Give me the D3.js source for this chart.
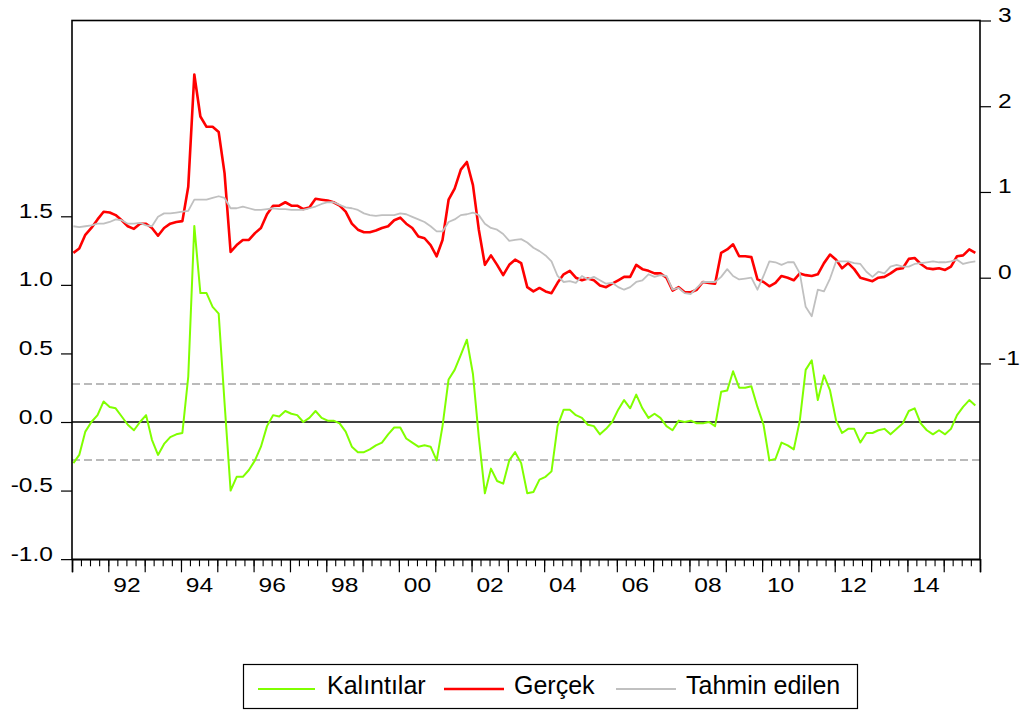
<!DOCTYPE html>
<html><head><meta charset="utf-8">
<script src="https://cdn.jsdelivr.net/npm/d3@7"></script>
<style>body{margin:0;background:#fff} text{font-family:Arial,"Liberation Sans",sans-serif;fill:#000}</style>
</head><body>
<svg id="c" width="1022" height="711"></svg>
<script>
// bimonthly observations starting Jan 1991
const startYear = 1991;
const stepMonths = 2;
const actual = [
0.29,0.34,0.50,0.58,0.68,0.77,0.76,0.73,0.67,0.60,
0.57,0.63,0.63,0.58,0.49,0.58,0.63,0.65,0.66,1.06,
2.37,1.88,1.76,1.76,1.70,1.22,0.30,0.38,0.44,0.44,
0.52,0.58,0.74,0.84,0.84,0.88,0.84,0.84,0.80,0.82,
0.92,0.91,0.90,0.88,0.84,0.77,0.63,0.56,0.53,0.53,
0.55,0.58,0.60,0.67,0.70,0.63,0.58,0.48,0.46,0.38,
0.25,0.44,0.91,1.04,1.26,1.35,1.08,0.56,0.15,0.26,
0.15,0.03,0.15,0.21,0.17,-0.11,-0.16,-0.12,-0.16,-0.18,
-0.06,0.04,0.08,0.00,-0.03,-0.01,-0.03,-0.09,-0.11,-0.07,
-0.03,0.01,0.01,0.15,0.10,0.08,0.05,0.05,0.00,-0.15,
-0.11,-0.17,-0.17,-0.14,-0.05,-0.06,-0.07,0.29,0.33,0.39,
0.25,0.25,0.24,-0.02,-0.05,-0.10,-0.06,0.02,0.00,-0.03,
0.05,0.03,0.02,0.04,0.17,0.27,0.21,0.11,0.17,0.10,
0.00,-0.02,-0.04,0.00,0.01,0.05,0.10,0.11,0.22,0.23,
0.16,0.11,0.10,0.11,0.09,0.13,0.25,0.26,0.33,0.29];
const fitted = [
0.60,0.59,0.60,0.61,0.63,0.63,0.65,0.68,0.67,0.63,
0.63,0.64,0.61,0.60,0.71,0.75,0.75,0.76,0.77,0.78,
0.91,0.91,0.91,0.93,0.95,0.93,0.81,0.81,0.83,0.81,
0.79,0.79,0.80,0.81,0.80,0.80,0.79,0.79,0.79,0.81,
0.83,0.86,0.88,0.88,0.85,0.82,0.81,0.79,0.75,0.73,
0.72,0.73,0.73,0.73,0.75,0.74,0.71,0.68,0.65,0.60,
0.54,0.54,0.65,0.68,0.73,0.74,0.76,0.73,0.63,0.58,
0.56,0.51,0.43,0.44,0.45,0.41,0.35,0.31,0.26,0.19,
0.02,-0.05,-0.04,-0.06,0.02,-0.02,0.01,-0.03,-0.07,-0.06,
-0.11,-0.14,-0.11,-0.05,-0.03,0.04,0.01,0.03,0.02,-0.14,
-0.12,-0.18,-0.19,-0.12,-0.05,-0.05,-0.05,0.01,0.10,0.02,
-0.02,-0.01,0.00,-0.14,0.02,0.19,0.18,0.15,0.18,0.18,
0.05,-0.34,-0.45,-0.14,-0.16,-0.01,0.19,0.19,0.19,0.17,
0.16,0.07,0.01,0.07,0.05,0.13,0.15,0.13,0.13,0.16,
0.17,0.18,0.19,0.18,0.18,0.19,0.21,0.16,0.18,0.19];
const residual = [
-0.30,-0.24,-0.07,0.00,0.05,0.15,0.11,0.10,0.04,-0.02,
-0.06,0.00,0.05,-0.13,-0.24,-0.16,-0.11,-0.09,-0.08,0.33,
1.43,0.94,0.94,0.84,0.79,0.14,-0.50,-0.40,-0.40,-0.35,
-0.28,-0.18,-0.03,0.05,0.04,0.08,0.06,0.05,0.00,0.03,
0.08,0.03,0.01,0.01,-0.01,-0.07,-0.18,-0.22,-0.22,-0.20,
-0.17,-0.15,-0.09,-0.04,-0.04,-0.12,-0.15,-0.18,-0.17,-0.18,
-0.28,-0.03,0.31,0.38,0.49,0.60,0.35,-0.11,-0.52,-0.34,
-0.43,-0.45,-0.28,-0.22,-0.30,-0.52,-0.51,-0.42,-0.40,-0.36,
-0.03,0.09,0.09,0.05,0.03,-0.02,-0.03,-0.09,-0.05,0.00,
0.09,0.16,0.10,0.20,0.10,0.03,0.06,0.03,-0.03,-0.06,
0.01,0.00,0.01,-0.01,-0.01,0.00,-0.03,0.22,0.23,0.37,
0.25,0.25,0.26,0.11,-0.02,-0.28,-0.27,-0.15,-0.17,-0.20,
0.01,0.38,0.45,0.16,0.34,0.23,0.01,-0.08,-0.05,-0.05,
-0.15,-0.08,-0.08,-0.06,-0.05,-0.09,-0.05,-0.01,0.08,0.10,
-0.01,-0.06,-0.09,-0.06,-0.09,-0.05,0.05,0.11,0.16,0.12];
const leftTicks = [-1, -0.5, 0, 0.5, 1, 1.5];
const rightTicks = [-1, 0, 1, 2, 3];
const yearLabels = [1992,1994,1996,1998,2000,2002,2004,2006,2008,2010,2012,2014];
const seBand = 0.277;
const seriesNames = ["Kalıntılar", "Gerçek", "Tahmin edilen"];
const seriesColors = ["#80ff00", "#ff0000", "#c0c0c0"];

const svg = d3.select("#c");
svg.append("rect").attr("width",1022).attr("height",711).attr("fill","#fff");
const L = 72, R = 980, T = 20.5, B = 559.3;
const SX = 1.17; // horizontal glyph stretch of axis labels

const dates = actual.map((_, i) => new Date(startYear, i * stepMonths, 15));
const x = d3.scaleTime().domain([new Date(1991,0,1), new Date(2016,0,1)]).range([L, R]);
const yR = d3.scaleLinear().domain([0, 3]).range([277.7, T]);
const yL = d3.scaleLinear().domain([0, 1.5]).range([422, 216.3]);

// reference lines
svg.append("line").attr("x1",L).attr("x2",R).attr("y1",yL(0)).attr("y2",yL(0))
  .attr("stroke","#000").attr("stroke-width",1.3);
[seBand, -seBand].forEach(v => svg.append("line").attr("x1",L).attr("x2",R)
  .attr("y1",yL(v)).attr("y2",yL(v)).attr("stroke","#777").attr("stroke-width",1.2)
  .attr("stroke-dasharray","8,4"));

const lineR = d3.line().x((d,i)=>x(dates[i])).y(d=>yR(d));
const lineL = d3.line().x((d,i)=>x(dates[i])).y(d=>yL(d));
svg.append("path").datum(residual).attr("d",lineL).attr("fill","none")
  .attr("stroke",seriesColors[0]).attr("stroke-width",2).attr("stroke-linejoin","round");
svg.append("path").datum(actual).attr("d",lineR).attr("fill","none")
  .attr("stroke",seriesColors[1]).attr("stroke-width",2.6).attr("stroke-linejoin","round");
svg.append("path").datum(fitted).attr("d",lineR).attr("fill","none")
  .attr("stroke",seriesColors[2]).attr("stroke-width",1.8).attr("stroke-linejoin","round");

// frame
svg.append("rect").attr("x",L).attr("y",T).attr("width",R-L).attr("height",B-T)
  .attr("fill","none").attr("stroke","#000").attr("stroke-width",1.6);

// left axis
const gl = svg.append("g").attr("transform",`translate(${L},0)`)
  .call(d3.axisLeft(yL).tickValues(leftTicks).tickSize(11).tickFormat(d=>d.toFixed(1)));
gl.select(".domain").remove();
gl.selectAll("line").attr("stroke","#000").attr("stroke-width",1.2);
gl.selectAll("text").attr("font-size",21).attr("font-family","Arial").attr("dy",null)
  .attr("y",1).attr("x",-19/SX).attr("transform",`scale(${SX},1)`);

// right axis
const gr = svg.append("g").attr("transform",`translate(${R},0)`)
  .call(d3.axisRight(yR).tickValues(rightTicks).tickSize(11).tickFormat(d=>String(d)));
gr.select(".domain").remove();
gr.selectAll("line").attr("stroke","#000").attr("stroke-width",1.2);
gr.selectAll("text").attr("font-size",21).attr("font-family","Arial").attr("dy",null)
  .attr("y",1).attr("x",18/SX).attr("transform",`scale(${SX},1)`);

// bottom axis: quarter minor ticks, year major ticks, labels every 2 years
const gm = svg.append("g").attr("transform",`translate(0,${B})`)
  .call(d3.axisBottom(x).ticks(d3.timeMonth.every(3)).tickSize(7).tickFormat(""));
gm.select(".domain").remove();
gm.selectAll("line").attr("stroke","#000").attr("stroke-width",1.1);
const gy = svg.append("g").attr("transform",`translate(0,${B})`)
  .call(d3.axisBottom(x).ticks(d3.timeYear.every(1)).tickSize(13).tickFormat(""));
gy.select(".domain").attr("stroke","#000").attr("stroke-width",1.6);
gy.selectAll("line").attr("stroke","#000").attr("stroke-width",1.2);
const gt = svg.append("g").attr("transform",`translate(0,${B})`)
  .call(d3.axisBottom(x).tickValues(yearLabels.map(y=>new Date(y,6,1))).tickSize(0)
    .tickFormat(d3.timeFormat("%y")));
gt.select(".domain").remove();
gt.selectAll("text").attr("font-size",21).attr("font-family","Arial").attr("dy",null)
  .attr("y",33).attr("transform",`scale(${SX},1)`).attr("x",0);

// legend
const lg = svg.append("g");
lg.append("rect").attr("x",243.5).attr("y",664.5).attr("width",614).attr("height",44)
  .attr("fill","#fff").attr("stroke","#000").attr("stroke-width",1.2);
const items = [
  {x1:258,x2:315,tx:327},
  {x1:444,x2:504,tx:514},
  {x1:616,x2:676,tx:686}];
items.forEach((it,i)=>{
  lg.append("line").attr("x1",it.x1).attr("x2",it.x2).attr("y1",689).attr("y2",689)
    .attr("stroke",seriesColors[i]).attr("stroke-width",i===1?2.6:2);
  lg.append("text").attr("x",it.tx).attr("y",694).attr("font-size",25).text(seriesNames[i]);
});
</script>
</body></html>
